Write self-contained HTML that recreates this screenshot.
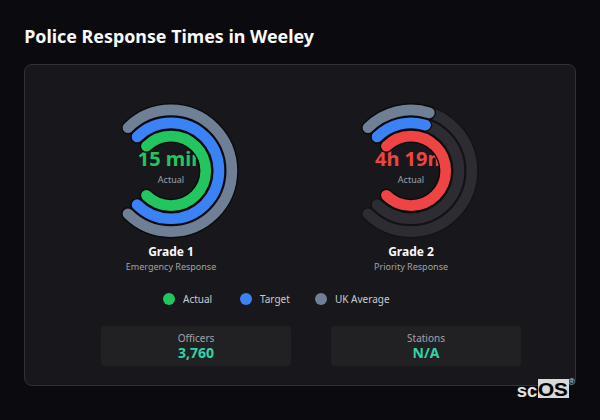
<!DOCTYPE html>
<html><head><meta charset="utf-8"><title>Police Response Times in Weeley</title>
<style>
*{margin:0;padding:0;box-sizing:border-box}
html,body{width:600px;height:420px;overflow:hidden;background:#0b0b0f}
body{position:relative;font-family:"Noto Sans","Open Sans","Liberation Sans",sans-serif;color:#fafafa}
.t{position:absolute;white-space:nowrap;line-height:1}
.c{transform:translateX(-50%)}
h1{position:absolute;left:24.2px;top:27.8px;font-size:17.85px;font-weight:700;line-height:1;color:#fafafa;white-space:nowrap}
.card{position:absolute;left:24px;top:64px;width:552px;height:322px;background:#18181c;border:1px solid #303036;border-radius:8px}
.big{font-size:20px;font-weight:700}
.sm{font-size:9px;color:#a1a1aa}
.grade{font-size:12px;font-weight:700;color:#fafafa}
.rings{position:absolute;left:0;top:0}
.leg{font-size:10px;color:#cacacf}
.dot{position:absolute;width:12px;height:12px;border-radius:50%}
.box{position:absolute;top:326px;width:190px;height:40px;background:#212124;border-radius:4px}
.lab{font-size:10px;color:#a1a1aa}
.val{font-size:14px;font-weight:700;color:#30d4a6}
.lg{position:absolute;font-family:"Liberation Sans",Arial,sans-serif;font-weight:700;line-height:1;white-space:nowrap}
.os{position:absolute;left:537.7px;top:379px;width:31.3px;height:19px;background:#d9d9d9}
.reg{position:absolute;font-family:"Liberation Sans",Arial,sans-serif;font-size:9px;line-height:1;color:#d4d8e0}
</style></head><body>
<h1>Police Response Times in Weeley</h1>
<div class="card"></div>

<div class="t c big" style="left:171px;top:149.1px;color:#22c55e">15 min</div>
<div class="t c sm" style="left:171px;top:174.5px">Actual</div>
<div class="t c big" style="left:411px;top:149.1px;color:#ef4444">4h 19m</div>
<div class="t c sm" style="left:411px;top:174.5px">Actual</div>

<svg class="rings" width="600" height="420" viewBox="0 0 600 420" fill="none" stroke-linecap="round">
<path d="M127.97 127.77A60.85 60.85 0 1 1 127.97 213.83" stroke="#0b0b0e" stroke-width="13.5"/>
<path d="M137.09 136.89A47.95 47.95 0 1 1 137.09 204.71" stroke="#0b0b0e" stroke-width="13.5"/>
<path d="M146.43 146.23A34.75 34.75 0 1 1 146.43 195.37" stroke="#0b0b0e" stroke-width="13.5"/>
<path d="M127.97 127.77A60.85 60.85 0 1 1 127.97 213.83" stroke="#6f7f96" stroke-width="10.7"/>
<path d="M137.09 136.89A47.95 47.95 0 1 1 137.09 204.71" stroke="#3b82f6" stroke-width="10.7"/>
<path d="M146.43 146.23A34.75 34.75 0 1 1 146.43 195.37" stroke="#22c55e" stroke-width="10.7"/>
<path d="M377.09 136.89A47.95 47.95 0 1 1 377.09 204.71" stroke="#131317" stroke-width="13.5"/>
<path d="M367.97 127.77A60.85 60.85 0 1 1 367.97 213.83" stroke="#131317" stroke-width="13.5"/>
<path d="M386.43 146.23A34.75 34.75 0 1 1 386.43 195.37" stroke="#0b0b0e" stroke-width="13.5"/>
<path d="M377.09 136.89A47.95 47.95 0 1 1 377.09 204.71" stroke="#2c2c32" stroke-width="10.7"/>
<path d="M367.97 127.77A60.85 60.85 0 1 1 367.97 213.83" stroke="#2c2c32" stroke-width="10.7"/>
<path d="M367.97 127.77A60.85 60.85 0 0 1 429.36 112.79" stroke="#0b0b0e" stroke-width="13.5"/>
<path d="M367.97 127.77A60.85 60.85 0 0 1 429.36 112.79" stroke="#6f7f96" stroke-width="10.7"/>
<path d="M377.09 136.89A47.95 47.95 0 0 1 425.47 125.08" stroke="#0b0b0e" stroke-width="13.5"/>
<path d="M377.09 136.89A47.95 47.95 0 0 1 425.47 125.08" stroke="#3b82f6" stroke-width="10.7"/>
<path d="M386.43 146.23A34.75 34.75 0 1 1 386.43 195.37" stroke="#ef4444" stroke-width="10.7"/>
</svg>

<div class="t c grade" style="left:171px;top:245.9px">Grade 1</div>
<div class="t c sm" style="left:171px;top:261.9px">Emergency Response</div>
<div class="t c grade" style="left:411px;top:245.9px">Grade 2</div>
<div class="t c sm" style="left:411px;top:261.9px">Priority Response</div>

<div class="dot" style="left:163px;top:293px;background:#22c55e"></div>
<div class="t leg" style="left:183px;top:294.1px">Actual</div>
<div class="dot" style="left:240px;top:293px;background:#3b82f6"></div>
<div class="t leg" style="left:260px;top:294.1px">Target</div>
<div class="dot" style="left:315px;top:293px;background:#6f7f96"></div>
<div class="t leg" style="left:335px;top:294.1px">UK Average</div>

<div class="box" style="left:101px"></div>
<div class="t c lab" style="left:196px;top:332.9px">Officers</div>
<div class="t c val" style="left:196px;top:346.3px">3,760</div>
<div class="box" style="left:331px"></div>
<div class="t c lab" style="left:426px;top:332.9px">Stations</div>
<div class="t c val" style="left:426px;top:346.3px">N/A</div>

<div class="lg" style="left:516.7px;top:381.5px;font-size:18.5px;color:#e2e2e2">sc</div>
<div class="os"></div>
<div class="lg" style="left:538.2px;top:380.2px;font-size:19px;color:#000;-webkit-text-stroke:0.2px #000;transform:scaleX(1.09);transform-origin:0 0">O</div>
<div class="lg" style="left:553.6px;top:380.2px;font-size:19px;color:#000;-webkit-text-stroke:0.2px #000;transform:scaleX(1.08);transform-origin:0 0">S</div>
<div class="reg" style="left:568.6px;top:377.7px">&reg;</div>
</body></html>
